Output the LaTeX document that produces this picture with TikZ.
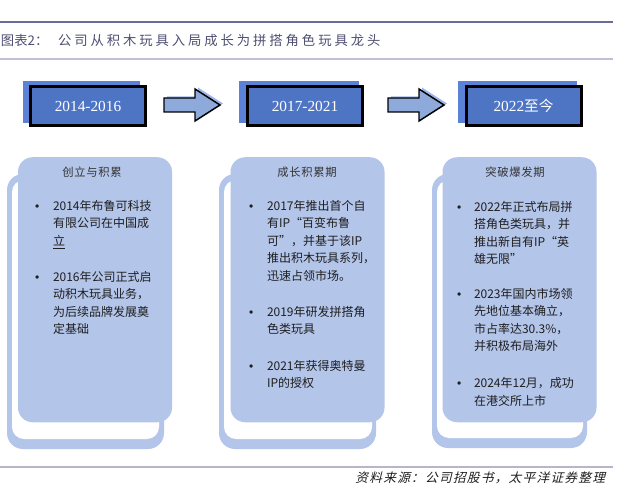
\documentclass[tikz,border=0pt]{standalone}
\usepackage{fontspec}
\setmainfont{Liberation Serif}
\newfontfamily\cjk{Noto Sans CJK SC}
\newfontfamily\cjktitle[LetterSpace=22]{Noto Sans CJK SC}
\newfontfamily\cjkcardtitle[LetterSpace=6]{Noto Sans CJK SC}
\newfontfamily\cjkfoot[FakeSlant=0.25,LetterSpace=10]{Noto Sans CJK SC}
\newfontfamily\bulletfont{Liberation Sans}
\definecolor{boxblue}{HTML}{4E74C4}
\definecolor{boxshadow}{HTML}{5B82D6}
\definecolor{arrowfill}{HTML}{8EAADB}
\definecolor{arrowshadow}{HTML}{9DB7EC}
\definecolor{cardblue}{HTML}{B4C5EA}
\definecolor{topline}{HTML}{6B6B98}
\definecolor{subline}{HTML}{BFC0D8}
\definecolor{footline}{HTML}{B8B4CC}
\definecolor{titlecol}{HTML}{4F4F72}
\definecolor{textdark}{HTML}{1E1E1E}
\definecolor{titlegray}{HTML}{333333}
\newcommand\mylines[1]{\vtop{\baselineskip=13.125pt\lineskiplimit=-20pt #1}}
\tikzset{
  yearbox/.style={draw=black, line width=2.25pt, fill=boxblue, minimum width=86.25pt, minimum height=29.25pt, text=white, font=\fontsize{11.5}{13}\selectfont},
  yearshadow/.style={fill=boxshadow},
  cardfront/.style={fill=cardblue, rounded corners=11pt, minimum width=115.5pt, minimum height=198.75pt},
  backblue/.style={fill=cardblue, rounded corners=12pt},
  backwhite/.style={fill=white, rounded corners=9pt},
  cardtitle/.style={font=\cjkcardtitle\fontsize{8.5}{10}\selectfont, text=titlegray, anchor=base},
  bulletmark/.style={font=\bulletfont\fontsize{9}{10}\selectfont, anchor=base west, text=textdark},
  bullettext/.style={font=\cjk\fontsize{9}{10}\selectfont, anchor=base west, text=textdark},
  blockarrow/.style={fill=arrowfill, draw=black, line width=1.1pt, line join=miter},
  blockarrowshadow/.style={fill=arrowshadow},
}
\begin{document}
\begin{tikzpicture}[x=0.75pt,y=-0.75pt, every node/.style={inner sep=0pt, outer sep=0pt}]
\useasboundingbox (0,0) rectangle (625,495);
\fill[white] (0,0) rectangle (625,495);

% header rules and title
\draw[topline, line width=1.5pt] (0,22) -- (613,22);
\draw[subline, line width=1.1pt] (0,59) -- (613,59);
\node[anchor=base west, text=titlecol, font=\cjk\fontsize{10}{12}\selectfont] (tpre) at (1,46) {图表2：};
\node[anchor=base west, text=titlecol, font=\cjktitle\fontsize{10}{12}\selectfont] (tmain) at (58,46) {公司从积木玩具入局成长为拼搭角色玩具龙头};

% year boxes
\fill[yearshadow] (23,81) rectangle (140,123);
\fill[yearshadow] (239,81) rectangle (359,123);
\fill[yearshadow] (458,81) rectangle (577,123);
\node[yearbox] (y1) at (88,106) {2014-2016};
\node[yearbox] (y2) at (305,106) {2017-2021};
\node[yearbox] (y3) at (523.5,106) {2022{\cjk\fontsize{11}{13}\selectfont 至今}};

% block arrows
\foreach \dx in {0,224}{
  \fill[blockarrowshadow] (164+\dx+3,98-1.5) -- (195+\dx+3,98-1.5) -- (195+\dx+3,89-1.5) -- (220+\dx+3,105-1.5) -- (195+\dx+3,121-1.5) -- (195+\dx+3,112-1.5) -- (164+\dx+3,112-1.5) -- cycle;
  \draw[blockarrow] (164+\dx,98) -- (195+\dx,98) -- (195+\dx,89) -- (220+\dx,105) -- (195+\dx,121) -- (195+\dx,112) -- (164+\dx,112) -- cycle;
}

% card backs
\fill[backblue] (7,174) rectangle (164,449);
\fill[backwhite] (12,180) rectangle (159,439);
\fill[backblue] (219,174) rectangle (376,449);
\fill[backwhite] (224,180) rectangle (372,439);
\fill[backblue] (432,174) rectangle (587,448);
\fill[backwhite] (437,180) rectangle (583,438);

% card fronts
\node[cardfront] (c1) at (95,289.75) {};
\node[cardfront] (c2) at (307.5,289.75) {};
\node[cardfront] (c3) at (519.5,289.75) {};

% card titles
\node[cardtitle] (h1) at (92,177) {创立与积累};
\node[cardtitle] (h2) at (307,177) {成长积累期};
\node[cardtitle] (h3) at (515,177) {突破爆发期};

% card 1
\node[bulletmark] (m11) at (35,210.5) {•};
\node[bullettext] (t11) at (53,210.5) {\mylines{\hbox{2014年布鲁可科技}\hbox{有限公司在中国成}\hbox{\underline{立}}}};
\node[bulletmark] (m12) at (35,281.5) {•};
\node[bullettext] (t12) at (53,281.5) {\mylines{\hbox{2016年公司正式启}\hbox{动积木玩具业务，}\hbox{为后续品牌发展奠}\hbox{定基础}}};

% card 2
\node[bulletmark] (m21) at (249,210.5) {•};
\node[bullettext] (t21) at (267,210.5) {\mylines{\hbox{2017年推出首个自}\hbox{有IP“百变布鲁}\hbox{可”，并基于该IP}\hbox{推出积木玩具系列，}\hbox{迅速占领市场。}}};
\node[bulletmark] (m22) at (249,316.5) {•};
\node[bullettext] (t22) at (267,316.5) {\mylines{\hbox{2019年研发拼搭角}\hbox{色类玩具}}};
\node[bulletmark] (m23) at (249,370.5) {•};
\node[bullettext] (t23) at (267,370.5) {\mylines{\hbox{2021年获得奥特曼}\hbox{IP的授权}}};

% card 3
\node[bulletmark] (m31) at (457,211.5) {•};
\node[bullettext] (t31) at (474,211.5) {\mylines{\hbox{2022年正式布局拼}\hbox{搭角色类玩具，并}\hbox{推出新自有IP“英}\hbox{雄无限”}}};
\node[bulletmark] (m32) at (457,298.5) {•};
\node[bullettext] (t32) at (474,298.5) {\mylines{\hbox{2023年国内市场领}\hbox{先地位基本确立，}\hbox{市占率达30.3\%，}\hbox{并积极布局海外}}};
\node[bulletmark] (m33) at (457,387.5) {•};
\node[bullettext] (t33) at (474,387.5) {\mylines{\hbox{2024年12月，成功}\hbox{在港交所上市}}};

% footer
\draw[footline, line width=0.9pt] (0,467) -- (613,467);
\node[anchor=base east, text=textdark, font=\cjkfoot\fontsize{9.5}{11}\selectfont] (src) at (605,482) {资料来源：公司招股书，太平洋证券整理};
\end{tikzpicture}
\end{document}
